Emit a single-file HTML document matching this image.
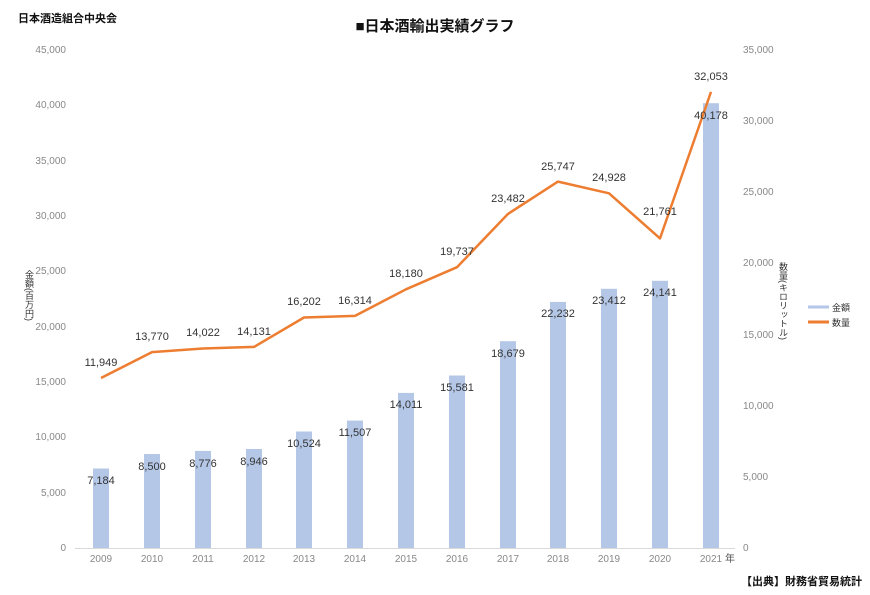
<!DOCTYPE html>
<html><head><meta charset="utf-8"><style>
body{margin:0;background:#fff;position:relative}
svg{display:block;font-family:"Liberation Sans","Noto Sans CJK JP",sans-serif}
.t{fill:#888;font-size:10px}
.d{fill:#333;font-size:11px}
.v{position:absolute;writing-mode:vertical-rl;font-family:"Liberation Sans","Noto Sans CJK JP",sans-serif;font-size:9px;color:#333;line-height:10px}
</style></head><body>
<div class="v" style="left:24px;top:270px">金額(百万円)</div>
<div class="v" style="left:778px;top:262px">数量(キロリットル)</div>
<svg width="870" height="595" viewBox="0 0 870 595" xmlns="http://www.w3.org/2000/svg">
<text x="18" y="22" font-size="11" font-weight="bold" fill="#111">日本酒造組合中央会</text>
<text x="435" y="31" font-size="15" font-weight="bold" fill="#111" text-anchor="middle">■日本酒輸出実績グラフ</text>
<g class="t" text-anchor="end">
<text x="66" y="53">45,000</text><text x="66" y="108">40,000</text><text x="66" y="164">35,000</text>
<text x="66" y="219">30,000</text><text x="66" y="274">25,000</text><text x="66" y="330">20,000</text>
<text x="66" y="385">15,000</text><text x="66" y="440">10,000</text><text x="66" y="496">5,000</text>
<text x="66" y="551">0</text>
</g>
<g class="t" text-anchor="start">
<text x="743" y="53">35,000</text><text x="743" y="124">30,000</text><text x="743" y="195">25,000</text>
<text x="743" y="266">20,000</text><text x="743" y="338">15,000</text><text x="743" y="409">10,000</text>
<text x="743" y="480">5,000</text><text x="743" y="551">0</text>
</g>
<line x1="75" y1="548.5" x2="735" y2="548.5" stroke="#d9d9d9"/>
<g fill="#b4c7e7">
<rect x="93" y="468.5" width="16" height="79.5"/>
<rect x="144" y="454" width="16" height="94"/>
<rect x="195" y="450.9" width="16" height="97.1"/>
<rect x="246" y="449" width="16" height="99"/>
<rect x="296" y="431.5" width="16" height="116.5"/>
<rect x="347" y="420.6" width="16" height="127.4"/>
<rect x="398" y="392.9" width="16" height="155.1"/>
<rect x="449" y="375.5" width="16" height="172.5"/>
<rect x="500" y="341.2" width="16" height="206.8"/>
<rect x="550" y="301.9" width="16" height="246.1"/>
<rect x="601" y="288.8" width="16" height="259.2"/>
<rect x="652" y="280.8" width="16" height="267.2"/>
<rect x="703" y="103.2" width="16" height="444.8"/>
</g>
<polyline fill="none" stroke="#ed7d31" stroke-width="2.5" stroke-linejoin="round" points="101,378 152,352.1 203,348.5 254,346.9 304,317.5 355,315.9 406,289.3 457,267.2 508,213.9 558,181.6 609,193.3 660,238.4 711,91.9"/>
<g class="d" text-anchor="middle">
<text x="101" y="484">7,184</text><text x="152" y="470">8,500</text><text x="203" y="467">8,776</text>
<text x="254" y="465">8,946</text><text x="304" y="447">10,524</text><text x="355" y="436">11,507</text>
<text x="406" y="408">14,011</text><text x="457" y="391">15,581</text><text x="508" y="357">18,679</text>
<text x="558" y="317">22,232</text><text x="609" y="304">23,412</text><text x="660" y="296">24,141</text>
<text x="711" y="119">40,178</text>
<text x="101" y="366">11,949</text><text x="152" y="340">13,770</text><text x="203" y="336">14,022</text>
<text x="254" y="335">14,131</text><text x="304" y="305">16,202</text><text x="355" y="304">16,314</text>
<text x="406" y="277">18,180</text><text x="457" y="255">19,737</text><text x="508" y="202">23,482</text>
<text x="558" y="170">25,747</text><text x="609" y="181">24,928</text><text x="660" y="215">21,761</text>
<text x="711" y="80">32,053</text>
</g>
<g class="t" text-anchor="middle">
<text x="101" y="562">2009</text><text x="152" y="562">2010</text><text x="203" y="562">2011</text>
<text x="254" y="562">2012</text><text x="304" y="562">2013</text><text x="355" y="562">2014</text>
<text x="406" y="562">2015</text><text x="457" y="562">2016</text><text x="508" y="562">2017</text>
<text x="558" y="562">2018</text><text x="609" y="562">2019</text><text x="660" y="562">2020</text>
<text x="711" y="562">2021</text>
</g>
<text x="725" y="562" font-size="10" fill="#555">年</text>
<line x1="808" y1="307" x2="829" y2="307" stroke="#b4c7e7" stroke-width="3"/>
<text x="832" y="311" font-size="9" fill="#333">金額</text>
<line x1="808" y1="322" x2="829" y2="322" stroke="#ed7d31" stroke-width="3"/>
<text x="832" y="326" font-size="9" fill="#333">数量</text>
<text x="862" y="585" font-size="11" font-weight="bold" fill="#111" text-anchor="end">【出典】財務省貿易統計</text>
</svg>
</body></html>
